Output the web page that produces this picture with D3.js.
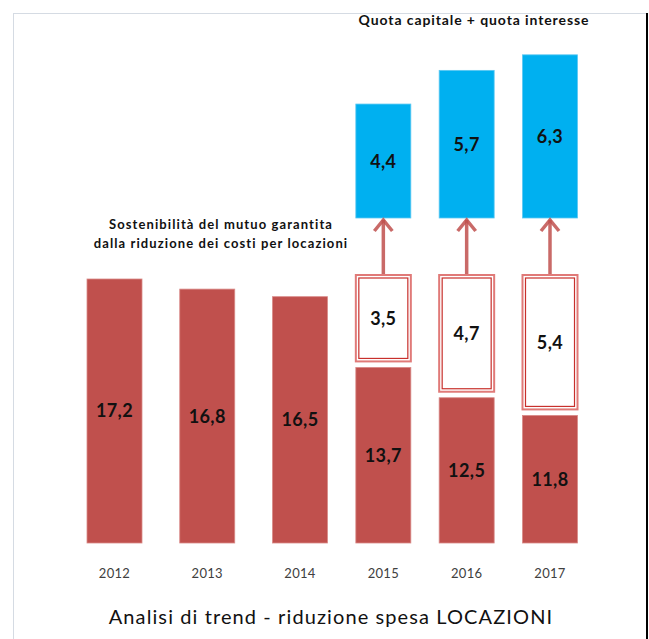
<!DOCTYPE html>
<html>
<head>
<meta charset="utf-8">
<script src="https://cdn.jsdelivr.net/npm/d3@7"></script>
<style>
body{margin:0;background:#fff}
text{font-family:Lato,"Open Sans",sans-serif}
</style>
</head>
<body>
<div id="chart"></div>
<script>
// dati
let anni=[2012,2013,2014,2015,2016,2017]
let locazioni=[17.2,16.8,16.5,13.7,12.5,11.8]
let anniMutuo=[2015,2016,2017]
let risparmio=[3.5,4.7,5.4]
let quota=[4.4,5.7,6.3]
let fmt=v=>String(v).replace(".",",")

let svgWidth=649
let svgHeight=639
let barW=55

let svg=d3.select("#chart")
.append("svg")
.attr("width",svgWidth)
.attr("height",svgHeight)

//cornice
svg.append("line").attr("x1",13.5).attr("x2",13.5).attr("y1",13).attr("y2",639)
    .attr("stroke","#d5dbe3").attr("stroke-width",1)
svg.append("line").attr("x1",13).attr("x2",647).attr("y1",13.5).attr("y2",13.5)
    .attr("stroke","#d5dbe3").attr("stroke-width",1)
svg.append("line").attr("x1",647).attr("x2",647).attr("y1",13).attr("y2",639)
    .attr("stroke","#000").attr("stroke-width",2)

//scale
let xScale=d3.scaleLinear()
    .domain([2012,2014,2017])
    .range([114.5,300,550])
let yScale=d3.scaleLinear()
    .domain([6.75,17.2])
    .range([543,279])
let yBlue=d3.scaleLinear()
    .domain([0,6.3])
    .range([218,218-6.3*25.9])

//barre rosse
svg.selectAll(".loc")
    .data(locazioni)
    .enter()
    .append("rect")
    .attr("class","loc")
    .attr("x",(d,i)=>xScale(anni[i])-barW/2)
    .attr("y",d=>yScale(d))
    .attr("width",barW)
    .attr("height",d=>yScale.range()[0]-yScale(d))
    .attr("fill","#c0504d")
    .attr("stroke","#d98a88")
    .attr("stroke-width",0.8)
svg.selectAll(".locText")
    .data(locazioni)
    .enter()
    .append("text")
    .attr("x",(d,i)=>xScale(anni[i]))
    .attr("y",d=>(yScale(d)+yScale.range()[0])/2)
    .attr("dy","0.36em")
    .attr("text-anchor","middle")
    .attr("font-size","18px")
    .attr("font-weight","bold")
    .attr("letter-spacing","0.4px")
    .attr("fill","#111")
    .text(d=>fmt(d))

//riquadri risparmio (doppio bordo)
let base=anniMutuo.map(a=>locazioni[anni.indexOf(a)])
let box=svg.selectAll(".box")
    .data(risparmio)
    .enter()
    .append("g")
    .attr("class","box")
box.append("rect")
    .attr("x",(d,i)=>xScale(anniMutuo[i])-barW/2)
    .attr("y",(d,i)=>yScale(base[i]+d)-4)
    .attr("width",barW)
    .attr("height",(d,i)=>yScale(base[i])-6-(yScale(base[i]+d)-4))
    .attr("fill","#fff")
    .attr("stroke","#e07a78")
    .attr("stroke-width",2)
box.append("rect")
    .attr("x",(d,i)=>xScale(anniMutuo[i])-barW/2+3)
    .attr("y",(d,i)=>yScale(base[i]+d)-1)
    .attr("width",barW-6)
    .attr("height",(d,i)=>yScale(base[i])-12-(yScale(base[i]+d)-4))
    .attr("fill","none")
    .attr("stroke","#c8302c")
    .attr("stroke-width",1.2)
box.append("text")
    .attr("x",(d,i)=>xScale(anniMutuo[i]))
    .attr("y",(d,i)=>(yScale(base[i]+d)-4+yScale(base[i])-6)/2)
    .attr("dy","0.36em")
    .attr("text-anchor","middle")
    .attr("font-size","18px")
    .attr("font-weight","bold")
    .attr("letter-spacing","0.4px")
    .attr("fill","#111")
    .text(d=>fmt(d))

//barre blu
svg.selectAll(".quota")
    .data(quota)
    .enter()
    .append("rect")
    .attr("class","quota")
    .attr("x",(d,i)=>xScale(anniMutuo[i])-barW/2)
    .attr("y",d=>yBlue(d))
    .attr("width",barW)
    .attr("height",d=>yBlue(0)-yBlue(d))
    .attr("fill","#00b0f0")
    .attr("stroke","#5cc8f2")
    .attr("stroke-width",0.8)
svg.selectAll(".quotaText")
    .data(quota)
    .enter()
    .append("text")
    .attr("x",(d,i)=>xScale(anniMutuo[i]))
    .attr("y",d=>(yBlue(d)+yBlue(0))/2)
    .attr("dy","0.36em")
    .attr("text-anchor","middle")
    .attr("font-size","18px")
    .attr("font-weight","bold")
    .attr("letter-spacing","0.4px")
    .attr("fill","#111")
    .text(d=>fmt(d))

//frecce
let arrow=svg.selectAll(".arrow")
    .data(risparmio)
    .enter()
    .append("g")
    .attr("class","arrow")
    .attr("stroke","#c0504d")
    .attr("stroke-opacity",0.85)
    .attr("stroke-width",3.5)
    .attr("fill","none")
arrow.append("line")
    .attr("x1",(d,i)=>xScale(anniMutuo[i]))
    .attr("x2",(d,i)=>xScale(anniMutuo[i]))
    .attr("y1",(d,i)=>yScale(base[i]+d)-5)
    .attr("y2",yBlue(0)+2)
arrow.append("polyline")
    .attr("points",(d,i)=>{
        let cx=xScale(anniMutuo[i]),ty=yBlue(0)+1
        return `${cx-9},${ty+12} ${cx},${ty+1} ${cx+9},${ty+12}`
    })

//anni
svg.selectAll(".anno")
    .data(anni)
    .enter()
    .append("text")
    .attr("x",d=>xScale(d))
    .attr("y",578)
    .attr("text-anchor","middle")
    .attr("font-size","13px")
    .attr("letter-spacing","0.3px")
    .attr("fill","#404040")
    .text(d=>d)

//testi
svg.append("text")
    .attr("x",474)
    .attr("y",25)
    .attr("text-anchor","middle")
    .attr("font-size","14px")
    .attr("font-weight","bold")
    .attr("letter-spacing","0.9px")
    .attr("fill","#111")
    .text("Quota capitale + quota interesse")
svg.append("text")
    .attr("x",221)
    .attr("y",229)
    .attr("text-anchor","middle")
    .attr("font-size","13px")
    .attr("font-weight","bold")
    .attr("letter-spacing","1.1px")
    .attr("fill","#111")
    .text("Sostenibilità del mutuo garantita")
svg.append("text")
    .attr("x",221)
    .attr("y",248)
    .attr("text-anchor","middle")
    .attr("font-size","13px")
    .attr("font-weight","bold")
    .attr("letter-spacing","1.1px")
    .attr("fill","#111")
    .text("dalla riduzione dei costi per locazioni")
svg.append("text")
    .attr("x",331)
    .attr("y",624)
    .attr("text-anchor","middle")
    .attr("font-size","20px")
    .attr("letter-spacing","1.1px")
    .attr("fill","#111")
    .text("Analisi di trend - riduzione spesa LOCAZIONI")
</script>
</body>
</html>
